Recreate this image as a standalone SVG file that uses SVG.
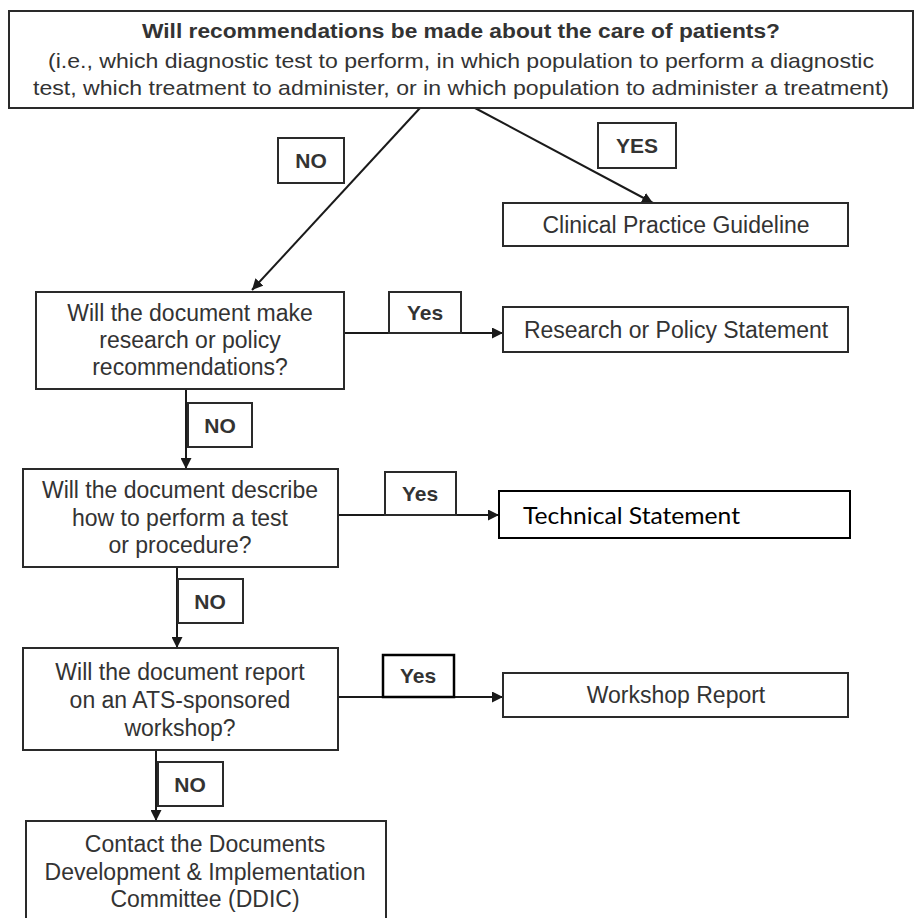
<svg xmlns="http://www.w3.org/2000/svg" width="922" height="918" viewBox="0 0 922 918">
<defs>
<marker id="ah" viewBox="0 0 10 10" refX="10" refY="5" markerWidth="5.5" markerHeight="5.5" orient="auto" markerUnits="strokeWidth">
<path d="M0,0 L10,5 L0,10 z" fill="#1a1a1a"/>
</marker>
<style>
.box{fill:#fff;stroke:#2a2a2a;stroke-width:2}
.t{font-family:"Liberation Sans",Arial,sans-serif;font-size:23px;fill:#333;text-anchor:middle}
.tt{font-family:"Liberation Sans",Arial,sans-serif;font-size:21px;fill:#333;text-anchor:middle}
.tb{font-family:"Liberation Sans",Arial,sans-serif;font-size:20px;font-weight:bold;fill:#333;text-anchor:middle}
.lbl{font-family:"Liberation Sans",Arial,sans-serif;font-size:21px;font-weight:bold;fill:#333;text-anchor:middle}
.c{fill:none;stroke:#1a1a1a;stroke-width:2;marker-end:url(#ah)}
</style>
</defs>
<rect width="922" height="918" fill="#fff"/>
<g id="connectors">
<line class="c" x1="420" y1="108" x2="252" y2="290"/>
<line class="c" x1="475" y1="108" x2="653" y2="203"/>
<line class="c" x1="344" y1="333" x2="503" y2="333"/>
<line class="c" x1="186" y1="389" x2="186" y2="469"/>
<line class="c" x1="338" y1="515" x2="499" y2="515"/>
<line class="c" x1="177" y1="567" x2="177" y2="648"/>
<line class="c" x1="338" y1="697" x2="503" y2="697"/>
<line class="c" x1="156" y1="750" x2="156" y2="821"/>
</g>
<g id="q1">
<rect class="box" x="9" y="11" width="904" height="97"/>
<text class="tb" x="461" y="38" textLength="638" lengthAdjust="spacingAndGlyphs">Will recommendations be made about the care of patients?</text>
<text class="tt" x="461" y="68" textLength="826" lengthAdjust="spacingAndGlyphs">(i.e., which diagnostic test to perform, in which population to perform a diagnostic</text>
<text class="tt" x="461" y="95" textLength="856" lengthAdjust="spacingAndGlyphs">test, which treatment to administer, or in which population to administer a treatment)</text>
</g>
<g id="lbl-no1"><rect class="box" x="278" y="138" width="66" height="45"/><text class="lbl" x="311" y="168">NO</text></g>
<g id="lbl-yes1"><rect class="box" x="598" y="123" width="78" height="45"/><text class="lbl" x="637" y="153">YES</text></g>
<g id="cpg">
<rect class="box" x="503" y="203" width="345" height="43"/>
<text class="t" x="676" y="233">Clinical Practice Guideline</text>
</g>
<g id="q2">
<rect class="box" x="36" y="292" width="308" height="97"/>
<text class="t" x="190" y="321">Will the document make</text>
<text class="t" x="190" y="348">research or policy</text>
<text class="t" x="190" y="375">recommendations?</text>
</g>
<g id="lbl-yes2"><rect class="box" x="389" y="292" width="72" height="41"/><text class="lbl" x="425" y="320">Yes</text></g>
<g id="rps">
<rect class="box" x="503" y="307" width="345" height="45"/>
<text class="t" x="676" y="338">Research or Policy Statement</text>
</g>
<g id="lbl-no2"><rect class="box" x="188" y="403" width="64" height="44"/><text class="lbl" x="220" y="433">NO</text></g>
<g id="q3">
<rect class="box" x="23" y="469" width="315" height="98"/>
<text class="t" x="180" y="498">Will the document describe</text>
<text class="t" x="180" y="526">how to perform a test</text>
<text class="t" x="180" y="553">or procedure?</text>
</g>
<g id="lbl-yes3"><rect class="box" x="385" y="472" width="71" height="43"/><text class="lbl" x="420" y="501">Yes</text></g>
<g id="ts">
<rect x="499" y="491" width="351" height="47" fill="#fff" stroke="#000" stroke-width="2"/>
<text x="523" y="524" font-family="Lato,'Open Sans',sans-serif" font-size="23" fill="#000" textLength="217" lengthAdjust="spacingAndGlyphs">Technical Statement</text>
</g>
<g id="lbl-no3"><rect class="box" x="178" y="579" width="65" height="44"/><text class="lbl" x="210" y="609">NO</text></g>
<g id="q4">
<rect class="box" x="23" y="648" width="315" height="102"/>
<text class="t" x="180" y="680">Will the document report</text>
<text class="t" x="180" y="708">on an ATS-sponsored</text>
<text class="t" x="180" y="736">workshop?</text>
</g>
<g id="lbl-yes4"><rect x="383" y="655" width="71" height="42" fill="#fff" stroke="#000" stroke-width="2.5"/><text class="lbl" x="418" y="683">Yes</text></g>
<g id="wr">
<rect class="box" x="503" y="673" width="345" height="44"/>
<text class="t" x="676" y="703">Workshop Report</text>
</g>
<g id="lbl-no4"><rect class="box" x="158" y="762" width="65" height="44"/><text class="lbl" x="190" y="792">NO</text></g>
<g id="ddic">
<rect class="box" x="26" y="821" width="360" height="120"/>
<text class="t" x="205" y="852">Contact the Documents</text>
<text class="t" x="205" y="880">Development &amp; Implementation</text>
<text class="t" x="205" y="907">Committee (DDIC)</text>
</g>
</svg>
